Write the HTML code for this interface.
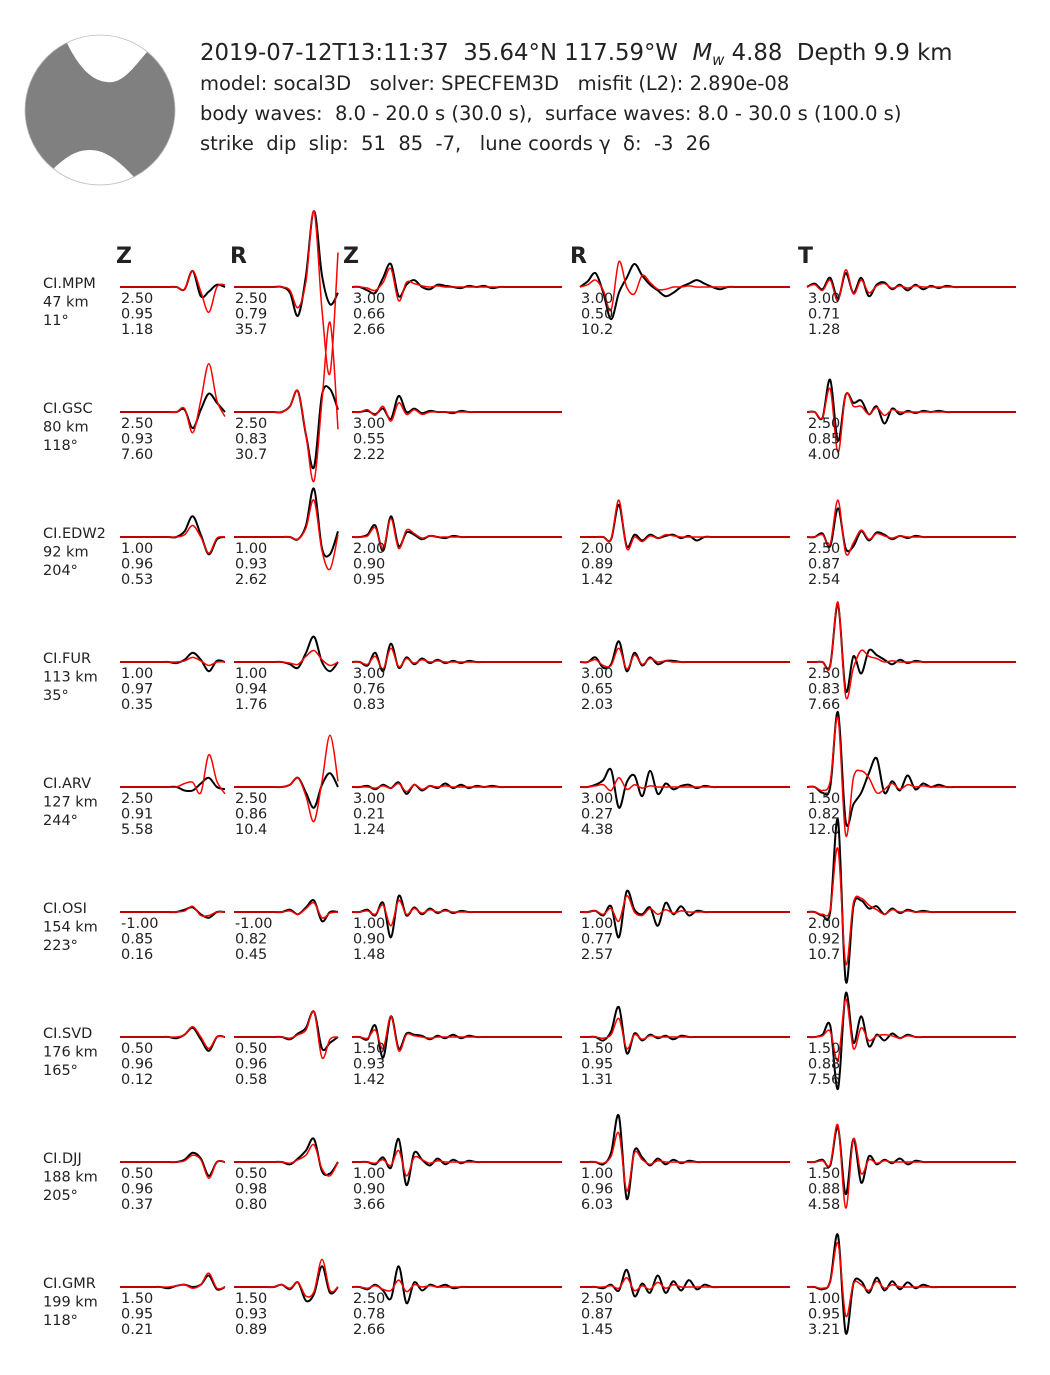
<!DOCTYPE html>
<html><head><meta charset="utf-8"><style>
html,body{margin:0;padding:0;background:#fff;}
svg{display:block;font-family:"DejaVu Sans","Liberation Sans",sans-serif;}
</style></head><body>
<svg id="fig" width="1050" height="1375" viewBox="0 0 1050 1375" xmlns="http://www.w3.org/2000/svg">
<defs><clipPath id="bbclip"><circle cx="100" cy="110" r="75"/></clipPath></defs>
<g>
<circle cx="100" cy="110" r="75" fill="#808080"/>
<g clip-path="url(#bbclip)">
<path d="M66,30 L67,43 C80,70 95,84 113,82 C125,80 135,66 147,52 L150,30 Z" fill="#fff"/>
<path d="M50,195 L53,169 C65,158 75,150 90,150 C105,150 118,160 134,177 L140,195 Z" fill="#fff"/>
</g>
<circle cx="100" cy="110" r="75" fill="none" stroke="#bbb" stroke-width="0.8"/>
</g>
<g fill="#222">
<text x="200" y="60" font-size="22.8" xml:space="preserve">2019-07-12T13:11:37  35.64°N 117.59°W  <tspan font-style="italic">M</tspan><tspan font-style="italic" font-size="15" dy="5">w</tspan><tspan dy="-5"> 4.88  Depth 9.9 km</tspan></text>
<text x="200" y="90" font-size="19.5" xml:space="preserve">model: socal3D   solver: SPECFEM3D   misfit (L2): 2.890e-08</text>
<text x="200" y="120" font-size="19.5" xml:space="preserve">body waves:  8.0 - 20.0 s (30.0 s),  surface waves: 8.0 - 30.0 s (100.0 s)</text>
<text x="200" y="150" font-size="19.5" xml:space="preserve">strike  dip  slip:  51  85  -7,   lune coords γ  δ:  -3  26</text>
</g>
<g font-weight="bold" font-size="22" fill="#222">
<text x="116" y="263">Z</text>
<text x="230" y="263">R</text>
<text x="343" y="263">Z</text>
<text x="570" y="263">R</text>
<text x="798" y="263">T</text>
</g>
<g id="traces"></g>
</svg>
<script>
const stations=["CI.MPM","CI.GSC","CI.EDW2","CI.FUR","CI.ARV","CI.OSI","CI.SVD","CI.DJJ","CI.GMR"];
const distances=["47 km","80 km","92 km","113 km","127 km","154 km","176 km","188 km","199 km"];
const azimuths=["11°","118°","204°","35°","244°","223°","165°","205°","118°"];
// body Z: obs / syn (14 samples)
const bzObs=[[0,0,0,0,0,0,0,0,-2,14,-8,-4,2,0],[0,0,0,0,0,0,0,0,2,-14,2,16,8,0],[0,0,0,0,0,0,0,0,5,18,2,-15,-2,0],[0,0,0,0,0,0,0,-1,2,8,2,-8,1,0],[0,0,0,0,0,0,0,0,-3,-3,3,8,0,-2],[0,0,0,0,0,0,0,0,2,4,-2,-5,0,0],[0,0,0,0,0,0,0,-1,2,8,-2,-12,0,0],[0,0,0,0,0,0,0,0,2,8,3,-12,0,0],[0,0,0,0,0,0,-1,1,2,0,2,10,-2,0]];
const bzSyn=[[0,0,0,0,0,0,0,0,-2,14,-4,-22,0,2],[0,0,0,0,0,0,0,0,3,-18,10,42,10,-4],[0,0,0,0,0,0,0,0,2,10,0,-14,-1,0],[0,0,0,0,0,0,0,0,1,4,1,-3,0,0],[0,0,0,0,0,0,0,0,3,4,-5,28,5,-6],[0,0,0,0,0,0,0,0,1,5,-3,-3,0,0],[0,0,0,0,0,0,0,0,2,9,0,-10,0,0],[0,0,0,0,0,0,0,0,1,6,2,-14,0,0],[0,0,0,0,0,0,0,1,2,-1,2,12,-1,0]];
const brObs=[[0,0,0,0,0,0,0,-5,-25,10,66,10,-15,-5],[0,0,0,0,0,0,0,5,18,-20,-48,15,20,2],[0,0,0,0,0,0,0,0,-2,10,42,-10,-15,5],[0,0,0,0,0,0,0,-2,-5,8,22,0,-8,0],[0,0,0,0,0,0,0,2,8,-5,-18,2,12,0],[0,0,0,0,0,0,0,2,-2,4,10,-8,0,0],[0,0,0,0,0,0,0,-2,3,8,22,-10,-5,0],[0,0,0,0,0,0,0,-2,3,10,20,-8,-10,0],[0,0,0,0,0,0,2,-2,4,-12,-6,18,-5,0]];
const brSyn=[[0,0,0,0,0,0,0,-3,-18,5,66,-20,-75,30],[0,0,0,0,0,0,0,5,18,-20,-60,10,78,-15],[0,0,0,0,0,0,0,0,-2,8,32,-12,-28,2],[0,0,0,0,0,0,0,-1,-2,5,10,2,-3,0],[0,0,0,0,0,0,0,2,8,-8,-30,5,45,5],[0,0,0,0,0,0,0,1,-2,3,8,-5,-1,0],[0,0,0,0,0,0,0,-1,2,6,22,-18,-2,0],[0,0,0,0,0,0,0,-1,2,6,15,-6,-12,0],[0,0,0,0,0,0,2,-1,4,-8,-4,24,-3,0]];
// surface (28 samples; trailing zeros padded)
const szObs=[[0,0,-3,-5,8,20,-8,2,6,0,-2,2,1,0,-1,1,0,1,-1],[0,0,1,-2,3,-6,14,0,3,-1,1,0,0,-1,1],[0,0,2,10,-12,18,-8,4,2,-2,1,0,-1,1],[0,0,-3,8,-8,16,-5,4,-2,3,-1,2,-1,1,-1,1],[0,0,1,-2,2,-1,4,-6,2,-3,1,-1,3,-1,2,-1,1,0,1],[0,0,2,-3,8,-22,14,-3,4,-2,3,-1,2,-1,1],[0,0,-2,10,-18,18,-10,3,2,1,-2,1,-1,2,-1,1],[0,0,0,-2,4,-5,20,-20,8,2,-3,3,-2,2,-1,1],[0,0,-2,2,-3,-10,18,-14,4,-3,2,0,2,-1]];
const szSyn=[[0,0,-1,-3,4,16,-12,4,3,1,0,1],[0,0,2,-3,5,-8,8,-2,2,-2],[0,0,1,8,-10,16,-10,6,3,-1,1],[0,0,-2,5,-6,12,-4,3,-1,2,0,1],[0,0,0,-1,1,-1,3,-4,2,-2,1,0,1],[0,0,1,-2,6,-12,10,-2,3,-1,2,0,1],[0,0,-1,6,-10,18,-12,2,1,0,-1],[0,0,0,-1,2,-3,10,-12,4,2,-1,1],[0,0,-1,1,-2,-3,6,-4,2,0,1]];
const srObs=[[0,5,12,-5,-28,-5,8,20,10,2,-3,-8,-5,0,3,6,3,0,-2],null,[0,0,0,0,-2,28,-8,2,-3,2,-1,1,2,-1,1,-3],[0,0,4,-5,-2,18,-8,8,-3,4,-2,1,1],[0,0,2,6,15,-18,4,10,-8,14,-6,3,-2,1,2,-1,1],[0,0,1,-3,5,-22,18,2,-2,4,-12,8,-2,5,-3,1],[0,0,0,-3,5,26,-14,3,-3,2,-1,1,-2,1],[0,0,0,-2,8,40,-32,10,4,-3,3,-2,2,-1,1],[0,0,0,-1,2,-3,15,-8,3,-5,10,-5,5,-3,6,-2,2]];
const srSyn=[[0,2,6,-3,-20,22,0,-6,10,4,-2,-2,0,0,1],null,[0,0,0,0,-2,32,-10,0,-4,1,-1,2,1],[0,0,2,-3,-3,12,-6,6,-2,3,0,1],[0,0,1,2,-3,8,-2,2,-1,1],[0,0,1,-2,3,-8,14,0,-3,3,-2,2,-1,1],[0,0,0,-1,2,16,-10,2,-2,1],[0,0,0,-1,5,25,-25,8,2,-2,1],[0,0,0,0,1,-1,8,-3,1,-2,4,-1,2]];
const stObs=[[0,3,-2,8,-10,12,-5,8,-8,2,4,-2,2,-3,2,-2,1,-1,1],[0,0,-5,28,-25,15,8,10,-2,5,-10,3,-2,1,-1,1,0,1],[0,0,3,-8,25,-10,-8,5,-3,4,2,-2,1,-1,1],[0,0,0,-3,50,-25,5,-10,10,6,2,-2,2,-1,1],[0,0,-5,0,65,-30,-15,-5,12,25,-5,5,-3,10,-2,3,0,2],[0,0,-3,0,80,-60,5,10,3,5,-2,3,-1,2,0,1],[0,0,2,10,-45,38,-5,18,-8,2,-3,3,-1,2],[0,0,2,-3,30,-28,20,-18,5,-2,2,-1,3,-2,1],[0,0,-2,5,45,-40,3,5,-5,8,-3,5,-2,4,-1,2]];
const stSyn=[[0,2,-3,6,-12,15,-6,6,-5,1,3,-1,1,-1,1],[0,0,-5,20,-35,15,5,5,-2,4,-3,2],[0,0,2,-6,32,-14,-5,6,-2,3,1,-1,1],[0,0,0,-4,52,-30,-5,10,5,3,0,1],[0,0,-3,5,60,-42,8,14,8,-5,-2,3,-2,2,0,1],[0,0,-2,2,55,-45,8,12,6,2,-2,2,0,1],[0,0,1,5,-20,33,-10,8,-3,1,2,1,-1,1],[0,0,1,-2,32,-40,20,-10,2,-1,1],[0,0,-1,4,38,-25,3,2,-3,5,-1,2]];
const labBZ=[["2.50","0.95","1.18"],["2.50","0.93","7.60"],["1.00","0.96","0.53"],["1.00","0.97","0.35"],["2.50","0.91","5.58"],["-1.00","0.85","0.16"],["0.50","0.96","0.12"],["0.50","0.96","0.37"],["1.50","0.95","0.21"]];
const labBR=[["2.50","0.79","35.7"],["2.50","0.83","30.7"],["1.00","0.93","2.62"],["1.00","0.94","1.76"],["2.50","0.86","10.4"],["-1.00","0.82","0.45"],["0.50","0.96","0.58"],["0.50","0.98","0.80"],["1.50","0.93","0.89"]];
const labSZ=[["3.00","0.66","2.66"],["3.00","0.55","2.22"],["2.00","0.90","0.95"],["3.00","0.76","0.83"],["3.00","0.21","1.24"],["1.00","0.90","1.48"],["1.50","0.93","1.42"],["1.00","0.90","3.66"],["2.50","0.78","2.66"]];
const labSR=[["3.00","0.50","10.2"],null,["2.00","0.89","1.42"],["3.00","0.65","2.03"],["3.00","0.27","4.38"],["1.00","0.77","2.57"],["1.50","0.95","1.31"],["1.00","0.96","6.03"],["2.50","0.87","1.45"]];
const labST=[["3.00","0.71","1.28"],["2.50","0.85","4.00"],["2.50","0.87","2.54"],["2.50","0.83","7.66"],["1.50","0.82","12.0"],["2.00","0.92","10.7"],["1.50","0.88","7.56"],["1.50","0.88","4.58"],["1.00","0.95","3.21"]];

const NS="http://www.w3.org/2000/svg";
const root=document.getElementById('traces');
const cols=[
 {x0:120,x1:225,n:14,obs:bzObs,syn:bzSyn,lab:labBZ,name:'body-z'},
 {x0:234,x1:338,n:14,obs:brObs,syn:brSyn,lab:labBR,name:'body-r'},
 {x0:352,x1:562,n:28,obs:szObs,syn:szSyn,lab:labSZ,name:'surface-z'},
 {x0:580,x1:790,n:28,obs:srObs,syn:srSyn,lab:labSR,name:'surface-r'},
 {x0:807,x1:1016,n:28,obs:stObs,syn:stSyn,lab:labST,name:'surface-t'}];
function rowY(i){return 287+125*i;}
function pathFor(vals,c,y0){
 const pts=[];
 for(let k=0;k<c.n;k++){const v=(vals[k]||0);pts.push([c.x0+(c.x1-c.x0)*k/(c.n-1),y0-v*1.15]);}
 let d="M"+pts[0][0].toFixed(1)+","+pts[0][1].toFixed(1);
 for(let k=0;k<pts.length-1;k++){
  const p0=pts[Math.max(0,k-1)],p1=pts[k],p2=pts[k+1],p3=pts[Math.min(pts.length-1,k+2)];
  const c1=[p1[0]+(p2[0]-p0[0])/6,p1[1]+(p2[1]-p0[1])/6],c2=[p2[0]-(p3[0]-p1[0])/6,p2[1]-(p3[1]-p1[1])/6];
  d+=" C"+c1.map(v=>v.toFixed(1))+" "+c2.map(v=>v.toFixed(1))+" "+p2.map(v=>v.toFixed(1));
 }
 return d;
}
function txt(x,y,s,size){const t=document.createElementNS(NS,'text');t.setAttribute('x',x);t.setAttribute('y',y);t.setAttribute('font-size',size);t.setAttribute('fill','#222');t.textContent=s;return t;}
for(let i=0;i<stations.length;i++){
 const y0=rowY(i);
 const g=document.createElementNS(NS,'g');
 
 
 const st=[stations[i],distances[i],azimuths[i]];
 for(let j=0;j<3;j++){
  const t=txt(43,y0+1+j*18.5,st[j],14.5);
  
  
  g.appendChild(t);
 }
 for(const c of cols){
  if(!c.obs[i])continue;
  const po=document.createElementNS(NS,'path');
  po.setAttribute('d',pathFor(c.obs[i],c,y0));po.setAttribute('fill','none');po.setAttribute('stroke','#000');po.setAttribute('stroke-width','2');
  
  
  g.appendChild(po);
  const ps=document.createElementNS(NS,'path');
  ps.setAttribute('d',pathFor(c.syn[i],c,y0));ps.setAttribute('fill','none');ps.setAttribute('stroke','#f00');ps.setAttribute('stroke-width','1.5');
  
  
  g.appendChild(ps);
  for(let j=0;j<3;j++){
   const t=txt(c.x0+1,y0+16+j*15.5,c.lab[i][j],14.5);
   
   
   g.appendChild(t);
  }
 }
 root.appendChild(g);
}
</script>
</body></html>
